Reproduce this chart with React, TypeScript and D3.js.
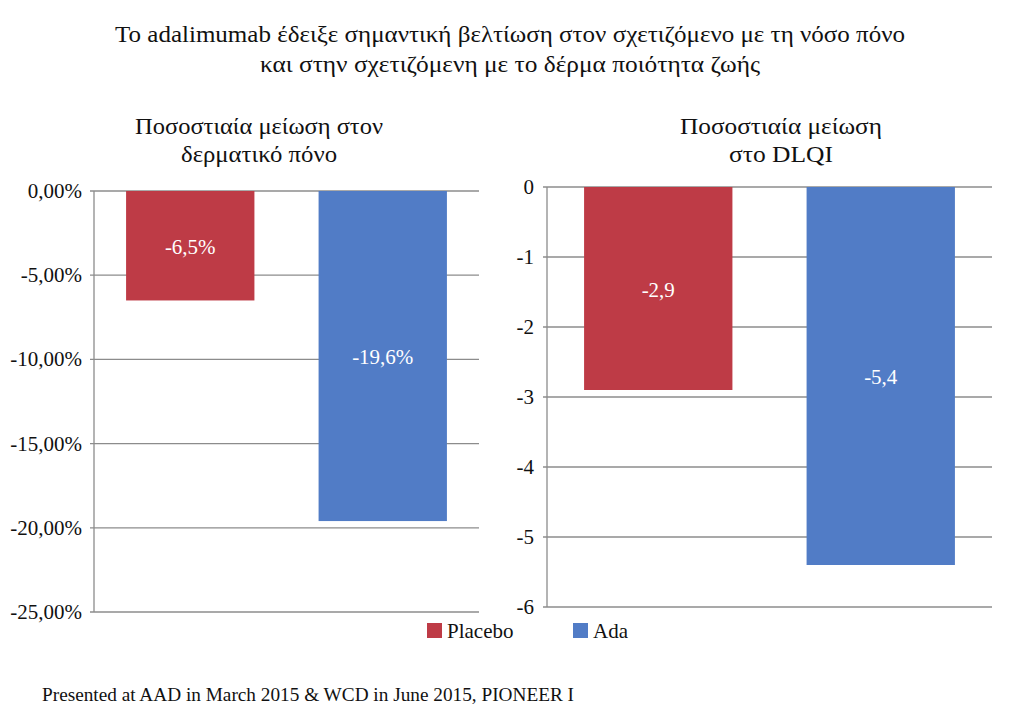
import React from "react";
import * as d3 from "d3";

const categories = ["Placebo", "Ada"];
const painValues = [-6.5, -19.6];
const painLabels = ["-6,5%", "-19,6%"];
const painTicks = [0, -5, -10, -15, -20, -25];
const painTickLabels = ["0,00%", "-5,00%", "-10,00%", "-15,00%", "-20,00%", "-25,00%"];
const dlqiValues = [-2.9, -5.4];
const dlqiLabels = ["-2,9", "-5,4"];
const dlqiTicks = [0, -1, -2, -3, -4, -5, -6];
const dlqiTickLabels = ["0", "-1", "-2", "-3", "-4", "-5", "-6"];
const colors = ["#BE3B46", "#517CC6"];
const titleLines = [
  "Το adalimumab έδειξε σημαντική βελτίωση στον σχετιζόμενο με τη νόσο πόνο",
  "και στην σχετιζόμενη με το δέρμα ποιότητα ζωής",
];
const painTitle = ["Ποσοστιαία μείωση στον", "δερματικό πόνο"];
const dlqiTitle = ["Ποσοστιαία μείωση", "στο DLQI"];
const footer = "Presented at AAD in March 2015 & WCD in June 2015, PIONEER I";

function Panel({
  x0, x1, y0, y1, domain, ticks, tickLabels, values, labels, labelRight, title, titleX, titleLens,
}: any) {
  const x = d3.scaleBand<string>().domain(categories).range([x0, x1]).paddingInner(1 / 3).paddingOuter(1 / 6);
  const y = d3.scaleLinear().domain(domain).range([y0, y1]);
  return (
    <g>
      {title.map((t: string, i: number) => (
        <text key={i} x={titleX} y={134 + i * 28} textAnchor="middle" fontSize={23} fill="#111"
          textLength={titleLens[i]} lengthAdjust="spacingAndGlyphs">{t}</text>
      ))}
      {ticks.map((t: number, i: number) => (
        <g key={t}>
          <line x1={x0 - 4} x2={x1} y1={y(t)} y2={y(t)} stroke="#8c8c8c" strokeWidth={1.3} />
          <text x={labelRight} y={y(t) + 7} textAnchor="end" fontSize={21} fill="#111">{tickLabels[i]}</text>
        </g>
      ))}
      <line x1={x0} x2={x0} y1={y(domain[0])} y2={y(domain[1])} stroke="#8c8c8c" strokeWidth={1.3} />
      {values.map((v: number, i: number) => (
        <g key={i}>
          <rect x={x(categories[i])} width={x.bandwidth()} y={y(0)} height={y(v) - y(0)} fill={colors[i]} />
          <text x={(x(categories[i]) as number) + x.bandwidth() / 2} y={(y(0) + y(v)) / 2 + 8} textAnchor="middle" fontSize={21} fill="#fff">{labels[i]}</text>
        </g>
      ))}
    </g>
  );
}

export default function App() {
  const titleLens = [790, 500];
  return (
    <svg width={1024} height={722} fontFamily="Liberation Serif, DejaVu Serif, serif"
      style={{ position: "absolute", left: 0, top: 0, background: "#fff" }}>
      <rect width={1024} height={722} fill="#fff" />
      {titleLines.map((t, i) => (
        <text key={i} x={510} y={42 + i * 30} textAnchor="middle" fontSize={24} fill="#111"
          textLength={titleLens[i]} lengthAdjust="spacingAndGlyphs">{t}</text>
      ))}
      <Panel x0={94} x1={479} y0={191} y1={612} domain={[0, -25]} ticks={painTicks} tickLabels={painTickLabels}
        values={painValues} labels={painLabels} labelRight={82} title={painTitle} titleX={259} titleLens={[248, 156]} />
      <Panel x0={547} x1={992} y0={187} y1={607} domain={[0, -6]} ticks={dlqiTicks} tickLabels={dlqiTickLabels}
        values={dlqiValues} labels={dlqiLabels} labelRight={534} title={dlqiTitle} titleX={781} titleLens={[202, 104]} />
      {categories.map((c, i) => (
        <g key={c}>
          <rect x={427 + i * 146} y={623} width={15} height={15} fill={colors[i]} />
          <text x={447 + i * 146} y={638} fontSize={21} fill="#111">{c}</text>
        </g>
      ))}
      <text x={42} y={701} fontSize={18} fill="#111" textLength={532} lengthAdjust="spacingAndGlyphs">{footer}</text>
    </svg>
  );
}
